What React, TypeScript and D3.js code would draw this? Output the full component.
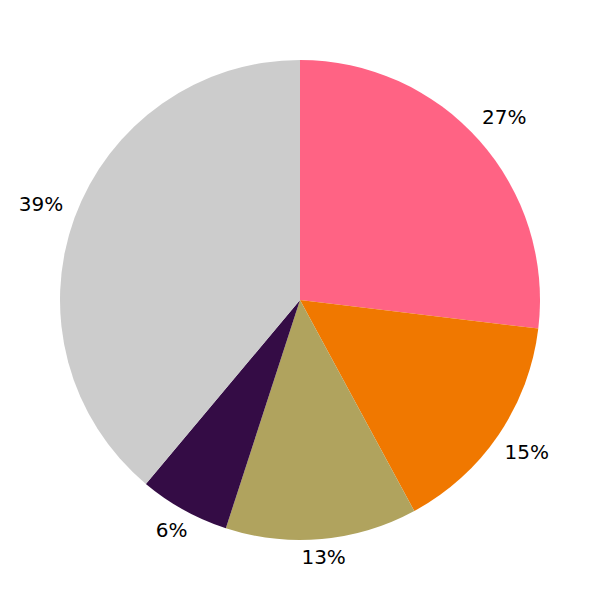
import React from "react";
import * as d3 from "d3";

const categories = ["A", "B", "C", "D", "E"];
const values = [26.9, 15.2, 12.9, 6.1, 38.9];
const labels = ["27%", "15%", "13%", "6%", "39%"];
const colors = ["#FF6384", "#F07800", "#B0A35E", "#340C45", "#CCCCCC"];

export default function App() {
  const width = 600;
  const height = 600;
  const cx = 300;
  const cy = 300;
  const radius = 240;
  const fontSize = 20;
  const labelOffset = 253;

  const pie = d3
    .pie<number>()
    .sort(null)
    .value((d) => d)
    .startAngle(0)
    .endAngle(2 * Math.PI);
  const arcs = pie(values);
  const arc = d3.arc<d3.PieArcDatum<number>>().innerRadius(0).outerRadius(radius);

  return (
    <svg
      width={width}
      height={height}
      style={{ position: "absolute", left: 0, top: 0 }}
    >
      <rect width={width} height={height} fill="#ffffff" />
      <g transform={`translate(${cx},${cy})`}>
        {arcs.map((a, i) => (
          <path key={categories[i]} d={arc(a) || ""} fill={colors[i]} />
        ))}
        {arcs.map((a, i) => {
          const mid = (a.startAngle + a.endAngle) / 2;
          const vx = Math.sin(mid);
          const vy = -Math.cos(mid);
          const text = labels[i];
          let w = 0;
          for (const ch of text) w += ch === "%" ? 0.95 * fontSize : 0.636 * fontSize;
          const h = 0.5 * fontSize;
          const support = (Math.abs(vx) * w) / 2 + (Math.abs(vy) * h) / 2;
          const d = labelOffset + support;
          return (
            <text
              key={"l" + categories[i]}
              x={vx * d}
              y={vy * d - 2}
              textAnchor="middle"
              dominantBaseline="central"
              fontFamily="DejaVu Sans"
              fontSize={fontSize}
              fill="#000"
            >
              {text}
            </text>
          );
        })}
      </g>
    </svg>
  );
}
